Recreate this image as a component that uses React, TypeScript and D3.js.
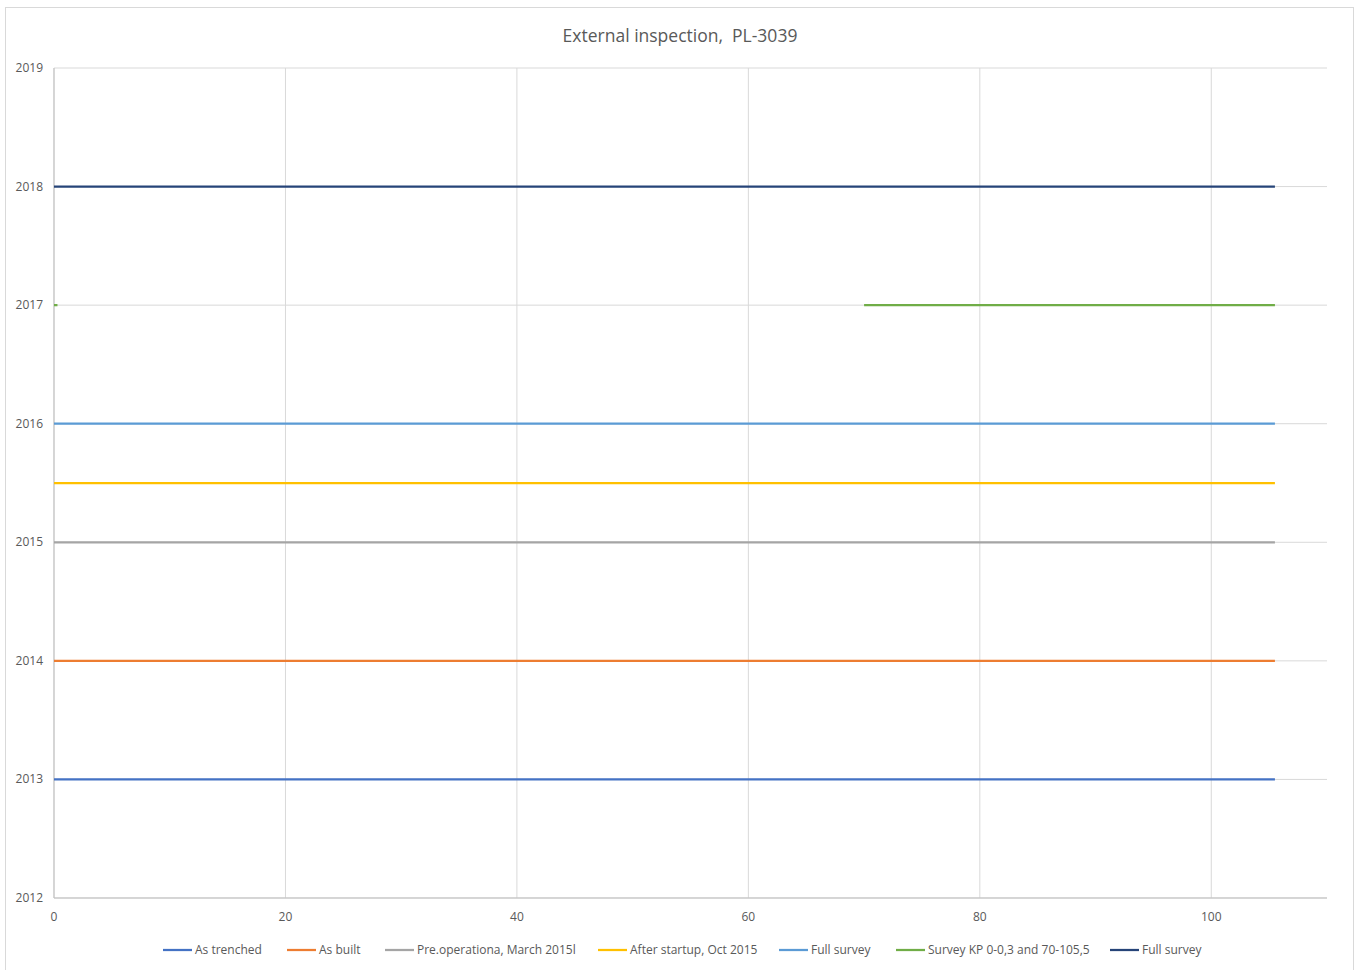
import React from "react";
import * as d3 from "d3";

// Inspection campaigns along the pipeline: KP range covered and the year it was done
const seriesNames = [
  "As trenched",
  "As built",
  "Pre.operationa, March 2015l",
  "After startup, Oct 2015",
  "Full survey",
  "Survey KP 0-0,3 and 70-105,5",
  "Full survey",
];
const seriesColors = ["#4472C4", "#ED7D31", "#A5A5A5", "#FFC000", "#5B9BD5", "#70AD47", "#264478"];
const seriesYears = [2013, 2014, 2015, 2015.5, 2016, 2017, 2018];
// Each series is a list of [startKP, endKP] segments
const seriesSegments: [number, number][][] = [
  [[0, 105.5]],
  [[0, 105.5]],
  [[0, 105.5]],
  [[0, 105.5]],
  [[0, 105.5]],
  [[0, 0.3], [70, 105.5]],
  [[0, 105.5]],
];
const xTicks = [0, 20, 40, 60, 80, 100];
const yTicks = [2012, 2013, 2014, 2015, 2016, 2017, 2018, 2019];
const legendX = [163, 287, 385, 598, 779, 896, 1110];

const W = 1360;
const H = 970;
const FONT = "'Liberation Sans Narrow', 'Open Sans', sans-serif";
const TEXT = "#595959";

export default function App() {
  const x = d3.scaleLinear().domain([0, 110]).range([54, 1327]);
  const y = d3.scaleLinear().domain([2012, 2019]).range([898, 68]);
  const line = d3
    .line<[number, number]>()
    .x((d) => x(d[0]))
    .y((d) => y(d[1]));

  return (
    <svg
      width={W}
      height={H}
      style={{ position: "absolute", left: 0, top: 0, background: "#fff" }}
      fontFamily={FONT}
    >
      <rect x={5.5} y={7.5} width={1348} height={970} fill="#fff" stroke="#D9D9D9" />
      <text x={680} y={42} textAnchor="middle" fontSize={19} fill={TEXT} fontFamily="'Open Sans', sans-serif" style={{ fontSize: 17.5 }}>
        External inspection,&#160; PL-3039
      </text>

      {/* gridlines */}
      {yTicks.map((t) => (
        <line key={"gy" + t} x1={x(0)} x2={x(110)} y1={y(t)} y2={y(t)} stroke="#D9D9D9" strokeWidth={1} />
      ))}
      {xTicks.map((t) => (
        <line key={"gx" + t} x1={x(t)} x2={x(t)} y1={y(2012)} y2={y(2019)} stroke="#D9D9D9" strokeWidth={1} />
      ))}
      <line x1={x(0)} x2={x(0)} y1={y(2012)} y2={y(2019)} stroke="#BFBFBF" />
      <line x1={x(0)} x2={x(110)} y1={y(2012)} y2={y(2012)} stroke="#BFBFBF" />

      {/* tick labels */}
      {yTicks.map((t) => (
        <text key={"ty" + t} x={43} y={y(t) + 4} textAnchor="end" fontSize={12} fill={TEXT}>
          {t}
        </text>
      ))}
      {xTicks.map((t) => (
        <text key={"tx" + t} x={x(t)} y={921} textAnchor="middle" fontSize={12} fill={TEXT}>
          {t}
        </text>
      ))}

      {/* series */}
      {seriesSegments.map((segs, i) =>
        segs.map((s, j) => (
          <path
            key={i + "-" + j}
            d={line([
              [s[0], seriesYears[i]],
              [s[1], seriesYears[i]],
            ])!}
            stroke={seriesColors[i]}
            strokeWidth={2.25}
            fill="none"
          />
        ))
      )}

      {/* legend */}
      {seriesNames.map((n, i) => (
        <g key={"lg" + i} transform={`translate(${legendX[i]},950)`}>
          <line x1={0} x2={29} y1={0} y2={0} stroke={seriesColors[i]} strokeWidth={2.25} />
          <text x={32} y={4} fontSize={12} fill={TEXT}>
            {n}
          </text>
        </g>
      ))}
    </svg>
  );
}
